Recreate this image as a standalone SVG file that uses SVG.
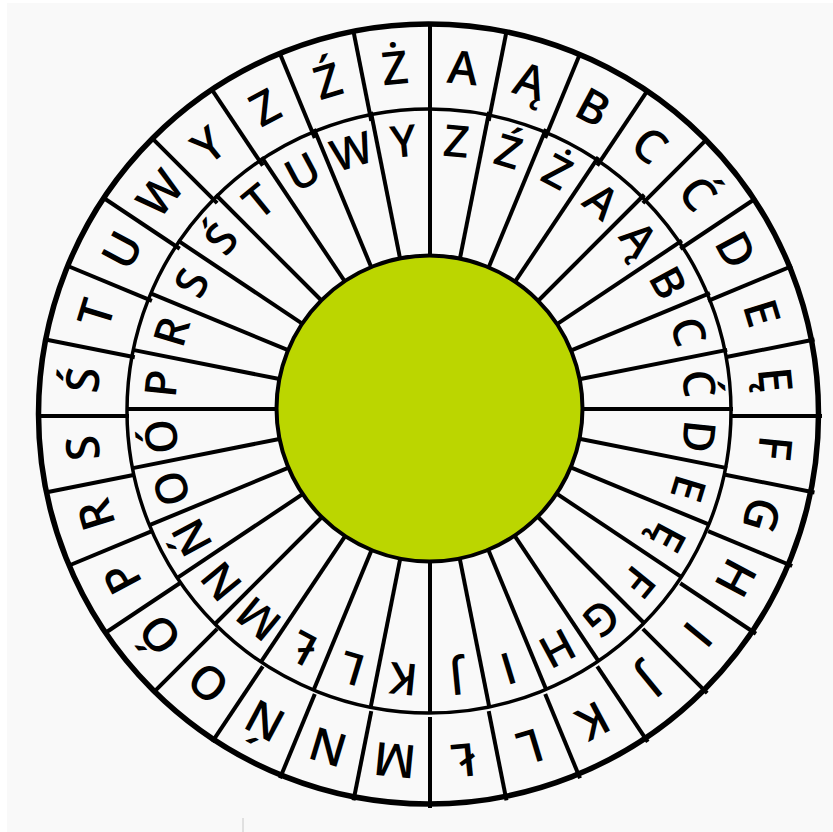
<svg xmlns="http://www.w3.org/2000/svg" xmlns:xlink="http://www.w3.org/1999/xlink" width="833" height="832" viewBox="0 0 833 832">
<style>
.ring{fill:none;stroke:#000}
.rad{stroke:#000;stroke-width:4}
.lt{font-family:"Open Sans","DejaVu Sans",sans-serif;font-size:44px;font-weight:600;fill:#000;text-anchor:middle}
.big{font-size:46px}
</style>
<defs>
<line id="ol" class="rad" x1="430" y1="115" x2="430" y2="24"/>
<line id="il" class="rad" x1="430" y1="258" x2="430" y2="106"/>
</defs>
<rect x="0" y="0" width="833" height="832" fill="#ffffff"/>
<rect x="7" y="3" width="826" height="829" fill="#f9f9f9"/>
<line x1="243" y1="818" x2="243" y2="832" stroke="#c8c8c8" stroke-width="1"/>
<g id="connectors">
<use xlink:href="#ol" transform="rotate(0 430 416)"/>
<use xlink:href="#ol" transform="rotate(11.25 430 416)"/>
<use xlink:href="#ol" transform="rotate(22.5 430 416)"/>
<use xlink:href="#ol" transform="rotate(33.75 430 416)"/>
<use xlink:href="#ol" transform="rotate(45 430 416)"/>
<use xlink:href="#ol" transform="rotate(56.25 430 416)"/>
<use xlink:href="#ol" transform="rotate(67.5 430 416)"/>
<use xlink:href="#ol" transform="rotate(78.75 430 416)"/>
<use xlink:href="#ol" transform="rotate(90 430 416)"/>
<use xlink:href="#ol" transform="rotate(101.25 430 416)"/>
<use xlink:href="#ol" transform="rotate(112.5 430 416)"/>
<use xlink:href="#ol" transform="rotate(123.75 430 416)"/>
<use xlink:href="#ol" transform="rotate(135 430 416)"/>
<use xlink:href="#ol" transform="rotate(146.25 430 416)"/>
<use xlink:href="#ol" transform="rotate(157.5 430 416)"/>
<use xlink:href="#ol" transform="rotate(168.75 430 416)"/>
<use xlink:href="#ol" transform="rotate(180 430 416)"/>
<use xlink:href="#ol" transform="rotate(191.25 430 416)"/>
<use xlink:href="#ol" transform="rotate(202.5 430 416)"/>
<use xlink:href="#ol" transform="rotate(213.75 430 416)"/>
<use xlink:href="#ol" transform="rotate(225 430 416)"/>
<use xlink:href="#ol" transform="rotate(236.25 430 416)"/>
<use xlink:href="#ol" transform="rotate(247.5 430 416)"/>
<use xlink:href="#ol" transform="rotate(258.75 430 416)"/>
<use xlink:href="#ol" transform="rotate(270 430 416)"/>
<use xlink:href="#ol" transform="rotate(281.25 430 416)"/>
<use xlink:href="#ol" transform="rotate(292.5 430 416)"/>
<use xlink:href="#ol" transform="rotate(303.75 430 416)"/>
<use xlink:href="#ol" transform="rotate(315 430 416)"/>
<use xlink:href="#ol" transform="rotate(326.25 430 416)"/>
<use xlink:href="#ol" transform="rotate(337.5 430 416)"/>
<use xlink:href="#ol" transform="rotate(348.75 430 416)"/>
<use xlink:href="#il" transform="rotate(0 430 409)"/>
<use xlink:href="#il" transform="rotate(11.25 430 409)"/>
<use xlink:href="#il" transform="rotate(22.5 430 409)"/>
<use xlink:href="#il" transform="rotate(33.75 430 409)"/>
<use xlink:href="#il" transform="rotate(45 430 409)"/>
<use xlink:href="#il" transform="rotate(56.25 430 409)"/>
<use xlink:href="#il" transform="rotate(67.5 430 409)"/>
<use xlink:href="#il" transform="rotate(78.75 430 409)"/>
<use xlink:href="#il" transform="rotate(90 430 409)"/>
<use xlink:href="#il" transform="rotate(101.25 430 409)"/>
<use xlink:href="#il" transform="rotate(112.5 430 409)"/>
<use xlink:href="#il" transform="rotate(123.75 430 409)"/>
<use xlink:href="#il" transform="rotate(135 430 409)"/>
<use xlink:href="#il" transform="rotate(146.25 430 409)"/>
<use xlink:href="#il" transform="rotate(157.5 430 409)"/>
<use xlink:href="#il" transform="rotate(168.75 430 409)"/>
<use xlink:href="#il" transform="rotate(180 430 409)"/>
<use xlink:href="#il" transform="rotate(191.25 430 409)"/>
<use xlink:href="#il" transform="rotate(202.5 430 409)"/>
<use xlink:href="#il" transform="rotate(213.75 430 409)"/>
<use xlink:href="#il" transform="rotate(225 430 409)"/>
<use xlink:href="#il" transform="rotate(236.25 430 409)"/>
<use xlink:href="#il" transform="rotate(247.5 430 409)"/>
<use xlink:href="#il" transform="rotate(258.75 430 409)"/>
<use xlink:href="#il" transform="rotate(270 430 409)"/>
<use xlink:href="#il" transform="rotate(281.25 430 409)"/>
<use xlink:href="#il" transform="rotate(292.5 430 409)"/>
<use xlink:href="#il" transform="rotate(303.75 430 409)"/>
<use xlink:href="#il" transform="rotate(315 430 409)"/>
<use xlink:href="#il" transform="rotate(326.25 430 409)"/>
<use xlink:href="#il" transform="rotate(337.5 430 409)"/>
<use xlink:href="#il" transform="rotate(348.75 430 409)"/>
</g>
<g id="rings">
<circle class="ring" cx="428.5" cy="414" r="390" stroke-width="5.5"/>
<circle class="ring" cx="429" cy="411" r="302" stroke-width="3.5"/>
</g>
<g id="center-disc">
<circle cx="429.5" cy="408.5" r="153" fill="#bbd600" stroke="#000" stroke-width="4"/>
</g>
<g id="outer-ring" class="lt big">
<text x="429" y="82.5" transform="rotate(5.625 429 414)">A</text>
<text x="429" y="82.5" transform="rotate(16.875 429 414)">Ą</text>
<text x="429" y="82.5" transform="rotate(28.125 429 414)">B</text>
<text x="429" y="82.5" transform="rotate(39.375 429 414)">C</text>
<text x="429" y="82.5" transform="rotate(50.625 429 414)">Ć</text>
<text x="429" y="82.5" transform="rotate(61.875 429 414)">D</text>
<text x="429" y="82.5" transform="rotate(73.125 429 414)">E</text>
<text x="429" y="82.5" transform="rotate(84.375 429 414)">Ę</text>
<text x="429" y="82.5" transform="rotate(95.625 429 414)">F</text>
<text x="429" y="82.5" transform="rotate(106.875 429 414)">G</text>
<text x="429" y="82.5" transform="rotate(118.125 429 414)">H</text>
<text x="429" y="82.5" transform="rotate(129.375 429 414)">I</text>
<text x="429" y="82.5" transform="rotate(140.625 429 414)">J</text>
<text x="429" y="82.5" transform="rotate(151.875 429 414)">K</text>
<text x="429" y="82.5" transform="rotate(163.125 429 414)">L</text>
<text x="429" y="82.5" transform="rotate(174.375 429 414)">Ł</text>
<text x="429" y="82.5" transform="rotate(185.625 429 414)">M</text>
<text x="429" y="82.5" transform="rotate(196.875 429 414)">N</text>
<text x="429" y="82.5" transform="rotate(208.125 429 414)">Ń</text>
<text x="429" y="82.5" transform="rotate(219.375 429 414)">O</text>
<text x="429" y="82.5" transform="rotate(230.625 429 414)">Ó</text>
<text x="429" y="82.5" transform="rotate(241.875 429 414)">P</text>
<text x="429" y="82.5" transform="rotate(253.125 429 414)">R</text>
<text x="429" y="82.5" transform="rotate(264.375 429 414)">S</text>
<text x="429" y="82.5" transform="rotate(275.625 429 414)">Ś</text>
<text x="429" y="82.5" transform="rotate(286.875 429 414)">T</text>
<text x="429" y="82.5" transform="rotate(298.125 429 414)">U</text>
<text x="429" y="82.5" transform="rotate(309.375 429 414)">W</text>
<text x="429" y="82.5" transform="rotate(320.625 429 414)">Y</text>
<text x="429" y="82.5" transform="rotate(331.875 429 414)">Z</text>
<text x="429" y="82.5" transform="rotate(343.125 429 414)">Ź</text>
<text x="429" y="82.5" transform="rotate(354.375 429 414)">Ż</text>
</g>
<g id="inner-ring" class="lt">
<text x="430" y="155.5" transform="rotate(39.375 430 410)">A</text>
<text x="430" y="155.5" transform="rotate(50.625 430 410)">Ą</text>
<text x="430" y="155.5" transform="rotate(61.875 430 410)">B</text>
<text x="430" y="155.5" transform="rotate(73.125 430 410)">C</text>
<text x="430" y="155.5" transform="rotate(84.375 430 410)">Ć</text>
<text x="430" y="155.5" transform="rotate(95.625 430 410)">D</text>
<text x="430" y="155.5" transform="rotate(106.875 430 410)">E</text>
<text x="430" y="155.5" transform="rotate(118.125 430 410)">Ę</text>
<text x="430" y="155.5" transform="rotate(129.375 430 410)">F</text>
<text x="430" y="155.5" transform="rotate(140.625 430 410)">G</text>
<text x="430" y="155.5" transform="rotate(151.875 430 410)">H</text>
<text x="430" y="155.5" transform="rotate(163.125 430 410)">I</text>
<text x="430" y="155.5" transform="rotate(174.375 430 410)">J</text>
<text x="430" y="155.5" transform="rotate(185.625 430 410)">K</text>
<text x="430" y="155.5" transform="rotate(196.875 430 410)">L</text>
<text x="430" y="155.5" transform="rotate(208.125 430 410)">Ł</text>
<text x="430" y="155.5" transform="rotate(219.375 430 410)">M</text>
<text x="430" y="155.5" transform="rotate(230.625 430 410)">N</text>
<text x="430" y="155.5" transform="rotate(241.875 430 410)">Ń</text>
<text x="430" y="155.5" transform="rotate(253.125 430 410)">O</text>
<text x="430" y="155.5" transform="rotate(264.375 430 410)">Ó</text>
<text x="430" y="155.5" transform="rotate(275.625 430 410)">P</text>
<text x="430" y="155.5" transform="rotate(286.875 430 410)">R</text>
<text x="430" y="155.5" transform="rotate(298.125 430 410)">S</text>
<text x="430" y="155.5" transform="rotate(309.375 430 410)">Ś</text>
<text x="430" y="155.5" transform="rotate(320.625 430 410)">T</text>
<text x="430" y="155.5" transform="rotate(331.875 430 410)">U</text>
<text x="430" y="155.5" transform="rotate(343.125 430 410)">W</text>
<text x="430" y="155.5" transform="rotate(354.375 430 410)">Y</text>
<text x="430" y="155.5" transform="rotate(5.625 430 410)">Z</text>
<text x="430" y="155.5" transform="rotate(16.875 430 410)">Ź</text>
<text x="430" y="155.5" transform="rotate(28.125 430 410)">Ż</text>
</g>
</svg>
